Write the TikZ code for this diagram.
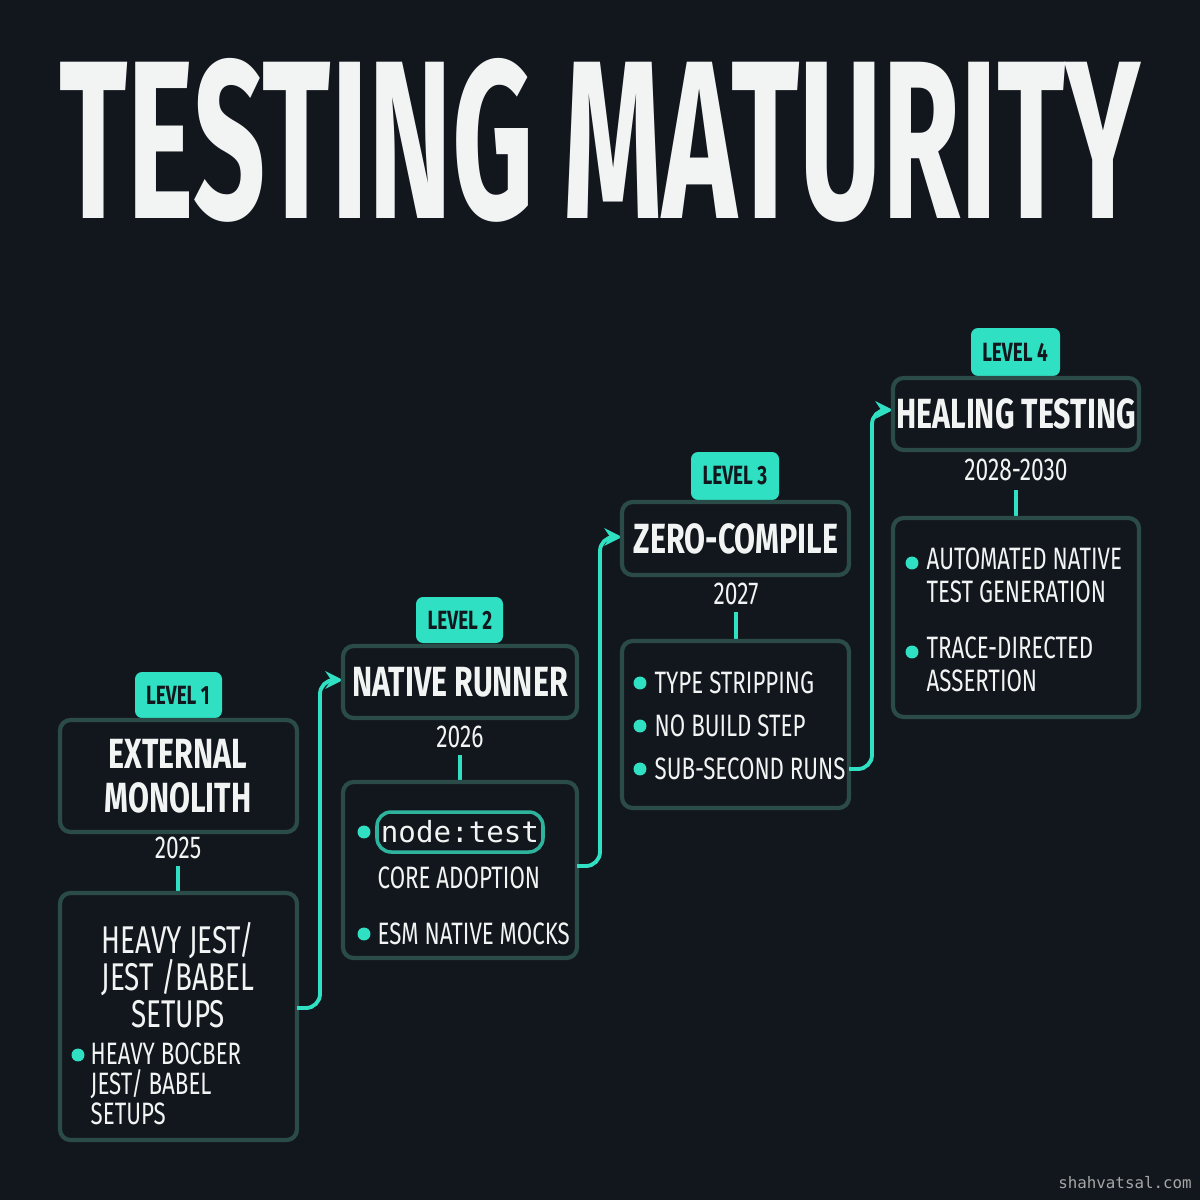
\documentclass[tikz,border=0pt]{standalone}
\usepackage{fontspec}
\setmainfont{Fira Sans}
\setmonofont{DejaVu Sans Mono}
\usepackage{graphicx}
\definecolor{bg}{HTML}{12171D}
\definecolor{teal}{HTML}{2FE0C2}
\definecolor{edge}{HTML}{2B4B48}
\definecolor{txt}{HTML}{F2F4F4}
\newcommand{\cnd}[1]{\scalebox{0.72}[1]{#1}}
\usetikzlibrary{arrows.meta}
\tikzset{
 box/.style={draw=edge,line width=1.2pt,rounded corners=3pt},
 badge/.style={fill=teal,rounded corners=2pt},
 conn/.style={draw=teal,line width=1.1pt,rounded corners=4pt},
 arr/.style={conn,-{Stealth[length=5pt,width=5pt]}},
 ttl/.style={text=txt,font=\fontsize{12}{13.5}\selectfont\bfseries,align=center},
 itm/.style={text=txt,font=\fontsize{8.8}{10.5}\selectfont,anchor=west},
 yr/.style={text=txt,font=\fontsize{9}{11}\selectfont},
 bt/.style={text=bg,font=\fontsize{7.5}{9}\selectfont\bfseries},
 dot/.style={circle,fill=teal,inner sep=1.3pt}
}
\begin{document}
\begin{tikzpicture}[x=0.01cm,y=-0.01cm]
\fill[bg] (0,0) rectangle (1200,1200);
\useasboundingbox (0,0) rectangle (1200,1200);
\node[text=txt,inner sep=0] (T) at (600,140) {\resizebox{10.8cm}{1.6cm}{\bfseries TESTING MATURITY}};
% Level 1
\path[badge] (135,672) rectangle (222,718); \node[bt] (b1) at (178,695) {\cnd{LEVEL 1}};
\draw[box] (60,720) rectangle (297,832);
\node[ttl] (t1) at (178,776) {\cnd{EXTERNAL}\\[-1pt]\cnd{MONOLITH}};
\node[yr] (y1) at (178,848) {\cnd{2025}};
\draw[teal,line width=1pt] (178,866) -- (178,893);
\draw[box] (60,893) rectangle (297,1140);
\node[text=txt,font=\fontsize{11}{10.5}\selectfont,align=center] (d1) at (178,975) {\cnd{HEAVY JEST/}\\\cnd{JEST /BABEL}\\\cnd{SETUPS}};
\node[dot] at (78,1055) {};
\node[itm,font=\fontsize{8.8}{8.6}\selectfont,anchor=north west,align=left,inner sep=0] (e1) at (90,1042) {\cnd{HEAVY BOCBER}\\\cnd{JEST/ BABEL}\\\cnd{SETUPS}};
\draw[arr] (297,1008) -- (320,1008) -- (320,680) -- (343,680);
% Level 2
\path[badge] (416,597) rectangle (503,643); \node[bt] at (460,620) {\cnd{LEVEL 2}};
\draw[box] (343,646) rectangle (577,718);
\node[ttl] (t2) at (460,682) {\cnd{NATIVE RUNNER}};
\node[yr] (y2) at (460,737) {\cnd{2026}};
\draw[teal,line width=1pt] (460,755) -- (460,781);
\draw[box] (343,782) rectangle (577,958);
\node[dot] at (364,832) {};
\draw[draw=teal!70!edge,line width=1pt,rounded corners=4pt] (377,812) rectangle (543,852);
\node[text=txt,font=\ttfamily\fontsize{8.3}{10}\selectfont] (nt) at (460,832) {node:test};
\node[itm,inner sep=0] at (377,878) {\cnd{CORE ADOPTION}};
\node[dot] at (364,934) {}; \node[itm,inner sep=0] at (377,934) {\cnd{ESM NATIVE MOCKS}};
\draw[arr] (577,866) -- (600,866) -- (600,537) -- (622,537);
% Level 3
\path[badge] (691,452) rectangle (779,500); \node[bt] at (735,476) {\cnd{LEVEL 3}};
\draw[box] (622,502) rectangle (849,575);
\node[ttl] at (736,539) {\cnd{ZERO-COMPILE}};
\node[yr] at (736,594) {\cnd{2027}};
\draw[teal,line width=1pt] (736,612) -- (736,640);
\draw[box] (622,641) rectangle (849,808);
\foreach \yy/\tt in {683/TYPE STRIPPING,726/NO BUILD STEP,769/SUB-SECOND RUNS}{
 \node[dot] at (640,\yy) {}; \node[itm,inner sep=0] at (654,\yy) {\cnd{\tt}};}
\draw[arr] (849,769) -- (872,769) -- (872,410) -- (893,410);
% Level 4
\path[badge] (971,328) rectangle (1060,376); \node[bt] at (1015,352) {\cnd{LEVEL 4}};
\draw[box] (893,378) rectangle (1139,450);
\node[ttl] at (1016,414) {\cnd{HEALING TESTING}};
\node[yr] at (1016,470) {\cnd{2028-2030}};
\draw[teal,line width=1pt] (1016,490) -- (1016,518);
\draw[box] (893,518) rectangle (1139,717);
\node[dot] at (912,563) {};
\node[itm,anchor=north west,align=left,inner sep=0,font=\fontsize{8.8}{9.4}\selectfont] at (926,547) {\cnd{AUTOMATED NATIVE}\\\cnd{TEST GENERATION}};
\node[dot] at (912,652) {};
\node[itm,anchor=north west,align=left,inner sep=0,font=\fontsize{8.8}{9.4}\selectfont] at (926,636) {\cnd{TRACE-DIRECTED}\\\cnd{ASSERTION}};
\node[text=gray!70,font=\ttfamily\fontsize{4.5}{5}\selectfont] (wm) at (1125,1183) {shahvatsal.com};
\end{tikzpicture}
\end{document}
